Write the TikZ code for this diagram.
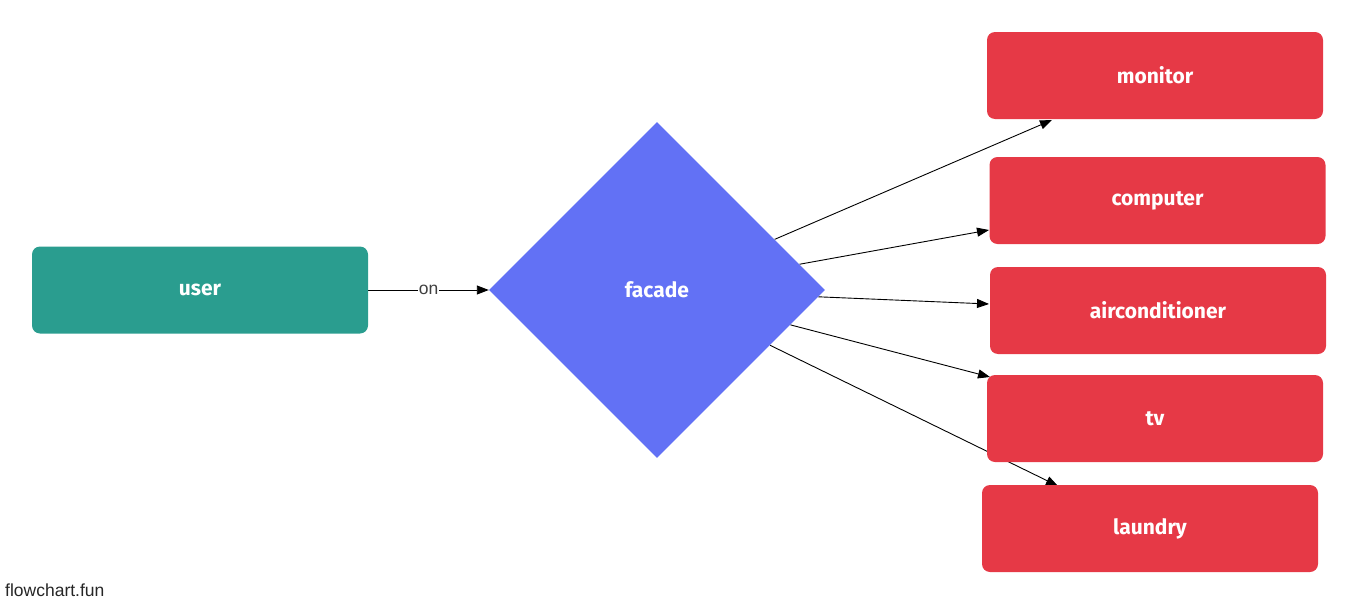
\documentclass[tikz,border=0pt]{standalone}
\usepackage{fontspec}
\setmainfont{Liberation Sans}
\newfontfamily\boxfont{Fira Sans}
\usetikzlibrary{shapes.geometric,arrows.meta,backgrounds}
\definecolor{ugreen}{HTML}{2A9D8F}
\definecolor{fblue}{HTML}{6271F5}
\definecolor{dred}{HTML}{E63946}
\tikzset{
  box/.style={rectangle, rounded corners=8pt, minimum width=336pt, minimum height=87pt, inner sep=0pt, text=white, font=\boxfont\bfseries\fontsize{21}{24}\selectfont},
  devbox/.style={box, fill=dred},
  userbox/.style={box, fill=ugreen},
  facadebox/.style={diamond, aspect=1, fill=fblue, minimum width=336pt, minimum height=336pt, inner sep=0pt, text=white, font=\boxfont\bfseries\fontsize{21}{24}\selectfont},
  conn/.style={draw=black, line width=0.9pt, -{Triangle[length=12pt,width=9pt]}},
  lbl/.style={fill=white, inner sep=1pt, text=black!75, font=\fontsize{17.5}{20}\selectfont}
}
\begin{document}
\begin{tikzpicture}[x=1pt,y=-1pt]
\useasboundingbox (0,0) rectangle (1358,605);
\node[userbox] (user) at (200,290) {user};
\node[facadebox] (facade) at (657,290) {facade};
\node[devbox] (monitor) at (1155,75.5) {monitor};
\node[devbox] (computer) at (1157.5,200.5) {computer};
\node[devbox] (aircon) at (1158,310.5) {airconditioner};
\node[devbox] (tv) at (1155,418.5) {tv};
\node[devbox] (laundry) at (1150,528.5) {laundry};
\coordinate (em) at (1052,120);
\coordinate (ec) at (989,230);
\coordinate (ea) at (989,304);
\coordinate (et) at (990,377);
\coordinate (el) at (1058,486);
\begin{pgfonlayer}{background}
\draw[conn] (user.east) -- node[lbl] {on} (facade.west);
\draw[conn] (facade) -- (em);
\draw[conn] (facade) -- (ec);
\draw[conn] (facade) -- (ea);
\draw[conn] (facade) -- (et);
\draw[conn] (facade) -- (el);
\end{pgfonlayer}
\node[anchor=base west, text=black!85, font=\fontsize{17.5}{20}\selectfont, inner sep=0pt] (brand) at (5,596) {flowchart.fun};
\end{tikzpicture}
\end{document}
